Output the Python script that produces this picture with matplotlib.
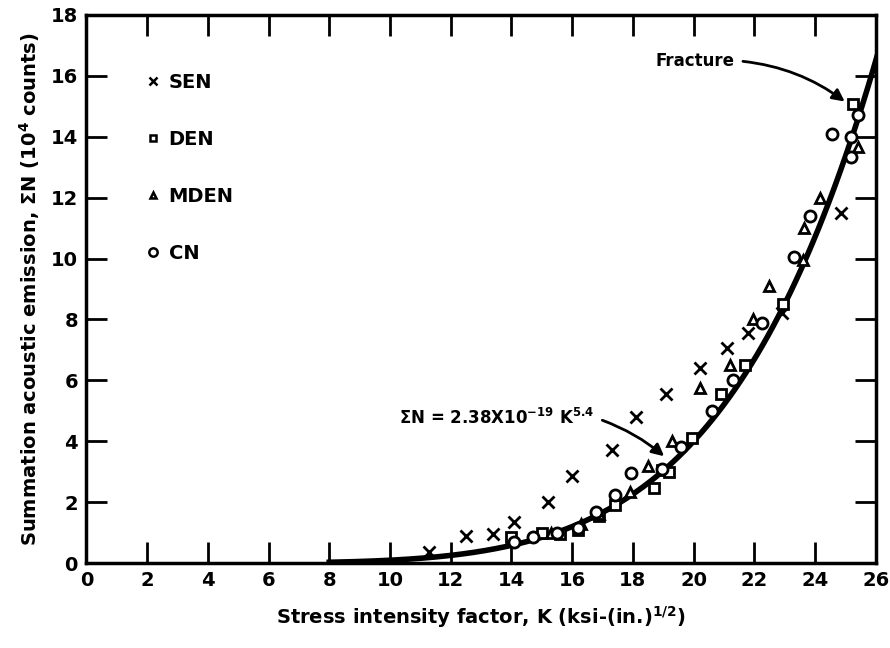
import numpy as np
import matplotlib.pyplot as plt
from matplotlib.lines import Line2D

plt.rcParams['font.family'] = ['DejaVu Sans']
plt.rcParams['font.weight'] = 'bold'
plt.rcParams['mathtext.default'] = 'bf'

# data (K in ksi-in^1/2, sum N in 10^4 counts)
sen_k = [11.3, 12.5, 13.4, 14.1, 15.2, 16.0, 17.3, 18.1, 19.1, 20.2, 21.1, 21.8, 22.9, 24.85]
sen_n = [0.35, 0.9, 0.95, 1.35, 2.0, 2.85, 3.7, 4.8, 5.55, 6.4, 7.05, 7.55, 8.2, 11.5]

den_k = [14.0, 15.0, 15.6, 16.2, 16.9, 17.4, 18.7, 18.95, 19.2, 19.95, 20.9, 21.7, 22.95, 25.25]
den_n = [0.85, 1.0, 0.95, 1.1, 1.55, 1.9, 2.45, 3.05, 3.0, 4.1, 5.55, 6.5, 8.5, 15.07]

mden_k = [15.3, 16.3, 16.9, 17.9, 18.5, 19.3, 20.2, 21.2, 21.95, 22.5, 23.6, 23.65, 24.15, 25.4]
mden_n = [1.0, 1.3, 1.6, 2.35, 3.2, 4.0, 5.75, 6.5, 8.0, 9.1, 9.95, 11.0, 12.0, 13.65]

cn_k = [14.1, 14.7, 15.5, 16.2, 16.8, 17.4, 17.95, 18.95, 19.6, 20.6, 21.3, 22.25, 23.3,
        23.85, 24.55, 25.2, 25.4, 25.2]
cn_n = [0.7, 0.85, 1.0, 1.15, 1.68, 2.24, 2.95, 3.1, 3.8, 5.0, 6.0, 7.9, 10.05,
        11.4, 14.1, 14.0, 14.7, 13.35]

# fitted curve: sum N = 2.38e-19 K^5.4 (K in psi-in^1/2, N in counts)
coef = 2.38e-19
expo = 5.4
k_fit = np.linspace(8, 26.2, 200)
n_fit = coef * (1000 * k_fit) ** expo / 1e4

fig = plt.figure(figsize=(8.9, 6.48), dpi=100)
ax = fig.add_axes([0.097, 0.131, 0.887, 0.846])

ax.plot(k_fit, n_fit, color='black', lw=4, zorder=2)

mk = dict(color='black', linestyle='none', markerfacecolor='white', markeredgewidth=2, zorder=3)
ax.plot(sen_k, sen_n, marker='x', markersize=8, **mk)
ax.plot(den_k, den_n, marker='s', markersize=7, **mk)
ax.plot(mden_k, mden_n, marker='^', markersize=7, **mk)
ax.plot(cn_k, cn_n, marker='o', markersize=8, **mk)

ax.set_xlim(0, 26)
ax.set_ylim(0, 18)
ax.set_xticks(np.arange(0, 27, 2))
ax.set_yticks(np.arange(0, 19, 2))
ax.tick_params(direction='in', length=15, width=2, top=True, right=True,
               labelsize=14, pad=6)
for lab in ax.get_xticklabels() + ax.get_yticklabels():
    lab.set_fontweight('bold')
for sp in ax.spines.values():
    sp.set_linewidth(2.5)

ax.set_xlabel('Stress intensity factor, K (ksi-(in.)$^{1/2}$)', fontsize=14,
              fontweight='bold', labelpad=10)
ax.set_ylabel('Summation acoustic emission, $\\Sigma$N (10$^4$ counts)', fontsize=14,
              fontweight='bold', labelpad=6)

handles = [Line2D([], [], marker=m, color='black', linestyle='none', markersize=s,
                  markerfacecolor='white', markeredgewidth=1.8)
           for m, s in [('x', 6), ('s', 5), ('^', 5), ('o', 6)]]
ax.legend(handles, ['SEN', 'DEN', 'MDEN', 'CN'], loc='upper left',
          bbox_to_anchor=(0.055, 0.926), frameon=False,
          labelspacing=1.95, handlelength=0.6, handletextpad=0.5,
          prop={'weight': 'bold', 'size': 14})

ax.annotate('Fracture', xy=(25.05, 15.1), xytext=(18.75, 16.5),
            fontsize=12, fontweight='bold', va='center',
            arrowprops=dict(arrowstyle='-|>', color='black', lw=2, relpos=(1, 0.5),
                            connectionstyle='arc3,rad=-0.15', mutation_scale=18,
                            shrinkA=4, shrinkB=2))
ax.annotate('$\\Sigma$N = 2.38X10$^{-19}$ K$^{5.4}$', xy=(19.1, 3.45), xytext=(10.3, 4.75),
            fontsize=12, fontweight='bold', va='center',
            arrowprops=dict(arrowstyle='-|>', color='black', lw=2, relpos=(1, 0.55),
                            connectionstyle='arc3,rad=-0.1', mutation_scale=18,
                            shrinkA=4, shrinkB=2))

fig.savefig('out.png', dpi=100)
